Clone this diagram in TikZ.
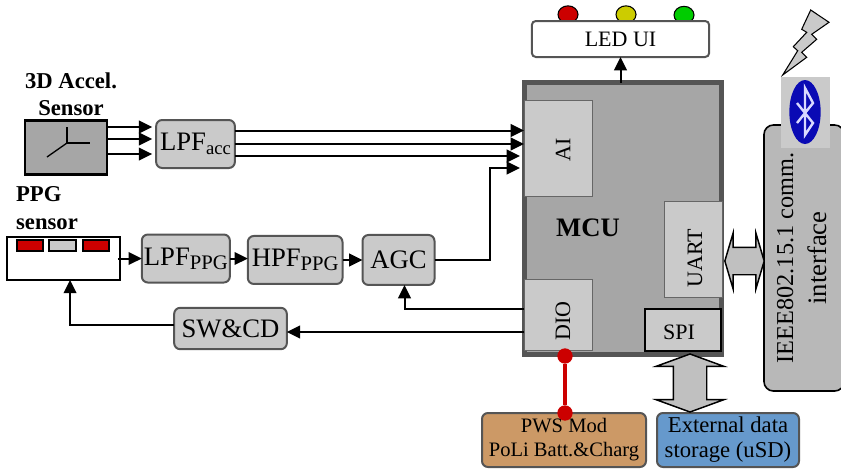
\documentclass[tikz,border=0pt]{standalone}
\usepackage{fontspec}
\setmainfont{Liberation Serif}
\usepackage{xcolor}
\usetikzlibrary{arrows.meta}
\usetikzlibrary{calc}
\usetikzlibrary{positioning}
\usetikzlibrary{shapes.arrows}
\usetikzlibrary{shapes.geometric}

\definecolor{blockgray}{HTML}{CACACA}
\definecolor{mcugray}{HTML}{A6A6A6}
\definecolor{edgegray}{HTML}{555555}
\definecolor{ledred}{HTML}{CC0000}
\definecolor{ledyellow}{HTML}{CCCC00}
\definecolor{ledgreen}{HTML}{00CC00}
\definecolor{pwsbrown}{HTML}{CC9966}
\definecolor{sdblue}{HTML}{6699CC}
\definecolor{btblue}{HTML}{0A0AB4}

\newcommand{\lowtext}[2][14]{\raisebox{-3pt}{\fontsize{#1}{14}\selectfont #2}}

\begin{document}
\begin{tikzpicture}
[
	x = 0.75pt, y = -0.75pt,
	block/.style	= {rectangle, draw = edgegray, fill = blockgray, line width = 1.5pt, rounded corners = 4.5pt, inner sep = 0pt, outer sep = 0pt, font = \fontsize{20}{22}\selectfont},
	panel/.style	= {block, font = \fontsize{16.5}{18.5}\selectfont, align = center},
	port/.style	= {rectangle, draw = black!60, fill = blockgray, line width = 0.6pt, inner sep = 0pt, outer sep = 0pt},
	porttext/.style	= {inner sep = 0pt, font = \fontsize{16.5}{18}\selectfont},
	title/.style	= {inner sep = 0pt, align = center, font = \fontsize{17}{20}\selectfont\bfseries},
	led/.style	= {ellipse, draw = black, line width = 0.8pt, minimum width = 15pt, minimum height = 13pt, inner sep = 0pt},
	chip/.style	= {rectangle, draw = black, line width = 1.6pt, minimum width = 20pt, minimum height = 8pt, inner sep = 0pt},
	bus/.style	= {double arrow, draw = black, fill = blockgray!95!black, line width = 1.1pt, inner xsep = 0pt, outer sep = 0pt},
	dot/.style	= {circle, fill = ledred, minimum size = 11.5pt, inner sep = 0pt},
	link/.style	= {-{Triangle[length = 10pt, width = 9.5pt]}, line width = 1.5pt},
	power/.style	= {draw = ledred, line width = 3pt},
]

	\clip (0,0) rectangle (841,468);

	% sensors
	\node (ACC) [rectangle, draw = black, fill = mcugray, line width = 2pt, outer sep = 0pt, minimum width = 61.5pt, minimum height = 40.5pt] at (66,147.5) {};
	\coordinate (axes) at (67,143);
	\draw [line width = 1pt] (axes) -- ++(0,-16);
	\draw [line width = 1pt] (axes) -- ++(23,0);
	\draw [line width = 1pt] (axes) -- ++(-20,14);
	\node (ACCtitle) [title] at (71,94) {3D Accel.\\Sensor};
	%
	\node (PPG) [rectangle, draw = black, fill = white, line width = 1.2pt, outer sep = 0pt, minimum width = 84.5pt, minimum height = 32pt] at (63.5,258.5) {};
	\node (chip1) [chip, fill = ledred] at (30,245.5) {};
	\node (chip2) [chip, fill = blockgray] at (62.5,245.5) {};
	\node (chip3) [chip, fill = ledred] at (96,245.5) {};
	\node (PPGtitle) [title, align = left] at (47,208) {PPG\\[1.5pt]sensor};

	% filters
	\node (LPFacc) [block, minimum width = 59pt, minimum height = 36pt] at (195.5,144) {LPF\lowtext{acc}};
	\node (LPFppg) [block, minimum width = 66pt, minimum height = 36pt, right = 16.5pt of PPG] {LPF\lowtext[15.5]{PPG}};
	\node (HPFppg) [block, minimum width = 71pt, minimum height = 36pt, right = 13.5pt of LPFppg, yshift = -1.1pt] {HPF\lowtext[15.5]{PPG}\hspace{2pt}};
	\node (AGC) [block, minimum width = 54pt, minimum height = 37.5pt, right = 15pt of HPFppg] {AGC\hspace{4.5pt}};
	\node (SWCD) [block, minimum width = 84.5pt, minimum height = 31pt] at (230.5,328.5) {SW\&CD\hspace{2pt}};

	% MCU
	\node (MCU) [rectangle, draw = edgegray, fill = mcugray, line width = 3.75pt, outer sep = 0pt, minimum width = 147.75pt, minimum height = 204pt] at (623,218.5) {};
	\node (MCUtext) [inner sep = 0pt, font = \fontsize{20}{22}\selectfont\bfseries] at (588,228) {MCU};
	\node (AI) [port, minimum width = 51pt, minimum height = 72pt] at (558,148) {};
	\node (UART) [port, minimum width = 43.5pt, minimum height = 72pt] at (693,249) {};
	\node (DIO) [port, minimum width = 51pt, minimum height = 53.25pt] at (558,314.5) {};
	\node (SPI) [port, draw = black, line width = 1.2pt, minimum width = 57pt, minimum height = 31.5pt] at (683,330) {};
	\node (AItext) [porttext, rotate = 90] at (563,150) {AI};
	\node (UARTtext) [porttext, rotate = 90] at (695,258) {UART};
	\node (DIOtext) [porttext, rotate = 90] at (563,321) {DIO};
	\node (SPItext) [porttext] at (679,332) {SPI};

	% LED panel
	\node (led1) [led, fill = ledred] at (568,14.5) {};
	\node (led2) [led, fill = ledyellow] at (626,14.5) {};
	\node (led3) [led, fill = ledgreen] at (684,15) {};
	\node (LED) [panel, fill = white, rounded corners = 3pt, minimum width = 133pt, minimum height = 27pt] at (620.5,39) {LED UI};

	% radio
	\node (IEEE) [panel, draw = black, fill = black!28, rounded corners = 7pt, line width = 1.2pt, minimum width = 60pt, minimum height = 199.5pt] at (804,258) {};
	\node (IEEEtext) [inner sep = 0pt, rotate = 90, align = center] at (802,258) {\fontsize{18.2}{24}\selectfont IEEE802.15.1 comm.\\[10pt]\fontsize{20}{24}\selectfont interface};
	\node (BTback) [rectangle, fill = blockgray, minimum width = 37pt, minimum height = 53pt, inner sep = 0pt] at (805.5,112.5) {};
	\node (BT) [ellipse, fill = btblue, minimum width = 23.5pt, minimum height = 48pt, inner sep = 0pt] at (805,112) {};
	\draw [draw = white!85!blue, line width = 1.8pt] (797,103) -- (813,123) -- (805,135) -- (805,88) -- (813,103) -- (797,123);
	\draw [fill = blockgray, draw = black, line width = 0.8pt] (782.7,75) -- (806.7,57.3) -- (801.7,52.3) -- (816.7,39.3) -- (811.7,34.3) -- (829,22.3) -- (810.7,10) -- (801.7,29.3) -- (806.7,32.3) -- (793.3,46.7) -- (797.7,50.7) -- cycle;

	% storage and power
	\node (PWS) [panel, fill = pwsbrown, minimum width = 123pt, minimum height = 40.5pt, font = \fontsize{15.4}{18}\selectfont] at (564,440) {PWS Mod\\PoLi Batt.\&Charg\hspace{4.5pt}};
	\node (USD) [panel, fill = sdblue, minimum width = 106.5pt, minimum height = 40.5pt, font = \fontsize{17}{18.75}\selectfont] at (728,440) {External data\\storage (uSD)};

	\node (busBT) [bus, inner ysep = 9.75pt, minimum height = 29.5pt, double arrow head extend = 10.5pt, double arrow tip angle = 147] at (744.5,261) {};
	\node (busSD) [bus, rotate = 90, inner ysep = 12pt, minimum height = 43.5pt, double arrow head extend = 12.75pt, double arrow tip angle = 140] at (690,383) {};

	\node (dotMCU) [dot] at (565,356) {};
	\node (dotPWS) [dot] at (565,413) {};
	\draw [power] (dotMCU) -- (dotPWS);

	% sensor to filter
	\draw [link] ([yshift = 15.4pt]ACC.east) -- ([yshift = 15.4pt, xshift = -3pt]ACC.east -| LPFacc.west);
	\draw [link] ([yshift = 6.4pt]ACC.east) -- ([yshift = 6.4pt, xshift = -3pt]ACC.east -| LPFacc.west);
	\draw [link] ([yshift = -4.9pt]ACC.east) -- ([yshift = -4.9pt, xshift = -3pt]ACC.east -| LPFacc.west);
	%
	\draw [link] ([yshift = 10.1pt]LPFacc.east) -- ([yshift = 10.1pt]LPFacc.east -| AI.west);
	\draw [link] (LPFacc.east) -- (LPFacc.east -| AI.west);
	\draw [link] ([yshift = -9pt]LPFacc.east) -- ([yshift = -9pt, xshift = -3pt]LPFacc.east -| AI.west);

	\draw [link] ([xshift = -1.5pt]PPG.east) -- (LPFppg.west);
	\draw [link] (LPFppg.east) -- (LPFppg.east -| HPFppg.west);
	\draw [link] (HPFppg.east) -- (AGC.west);

	\coordinate (AGCbend) at (490,168);
	\coordinate (AIin) at (520,168);
	\draw [link] (AGC.east) -- (AGC.east -| AGCbend) -- (AGCbend) -- (AIin);

	\draw [link] ([yshift = 4.1pt]DIO.west) -| ([xshift = 4.5pt]AGC.south);
	\draw [link] ([yshift = -13.1pt]DIO.west) -- ([yshift = -13.1pt]DIO.west -| SWCD.east);
	\draw [link] ([yshift = 2.6pt]SWCD.west) -| ([xshift = 4.9pt]PPG.south);

	\draw [link] (MCU.north -| LED.south) -- (LED.south);

\end{tikzpicture}
\end{document}
